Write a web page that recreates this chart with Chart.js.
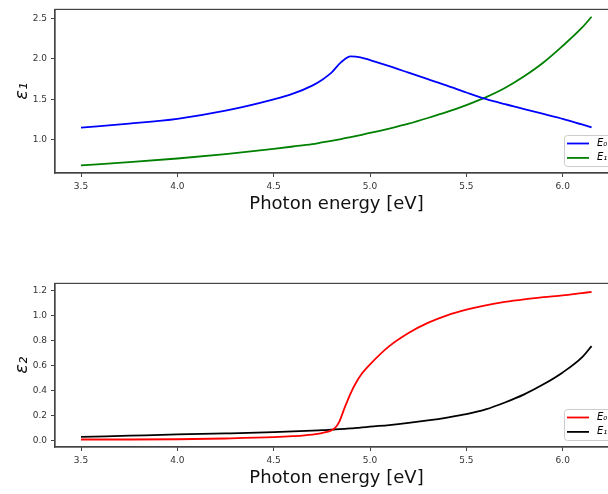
<!DOCTYPE html>
<html>
<head>
<meta charset="utf-8">
<script src="https://cdn.jsdelivr.net/npm/chart.js@4.4.0/dist/chart.umd.min.js"></script>
<style>
html, body { margin: 0; padding: 0; background: #fff; overflow: hidden; width: 608px; height: 494px; }
canvas { position: absolute; left: 0; }
</style>
</head>
<body>
<canvas id="eps1" width="620" height="215" style="top:0px"></canvas>
<canvas id="eps2" width="620" height="215" style="top:274px"></canvas>
<script>
// x ticks shared by both panels
const xTicks = [3.5, 4.0, 4.5, 5.0, 5.5, 6.0];

// epsilon 1 (top panel)
const energyTop = [3.5, 3.75, 4.0, 4.25, 4.5, 4.6, 4.7, 4.75, 4.8, 4.85, 4.9, 4.95, 5.0,
                   5.1, 5.2, 5.3, 5.4, 5.5, 5.6, 5.7, 5.8, 5.9, 6.0, 6.1, 6.15];
const eps1E0 = [1.15, 1.20, 1.26, 1.36, 1.50, 1.57, 1.67, 1.74, 1.83, 1.96, 2.03, 2.02, 1.985,
                1.91, 1.83, 1.75, 1.67, 1.585, 1.505, 1.44, 1.38, 1.32, 1.26, 1.19, 1.155];
const eps1E1 = [0.685, 0.725, 0.77, 0.825, 0.89, 0.918, 0.948, 0.968, 0.988, 1.01, 1.035, 1.06, 1.085,
                1.14, 1.2, 1.27, 1.345, 1.43, 1.525, 1.64, 1.785, 1.955, 2.16, 2.385, 2.52];
const yTicksTop = [1.0, 1.5, 2.0, 2.5];

// epsilon 2 (bottom panel)
const energyBot = [3.5, 3.75, 4.0, 4.25, 4.5, 4.6, 4.7, 4.75, 4.8, 4.82, 4.84, 4.87, 4.9, 4.93,
                   4.96, 5.0, 5.1, 5.2, 5.3, 5.4, 5.5, 5.6, 5.7, 5.8, 5.9, 6.0, 6.1, 6.15];
const eps2E0 = [0.01, 0.01, 0.012, 0.018, 0.028, 0.036, 0.049, 0.061, 0.083, 0.104, 0.15, 0.27, 0.38, 0.47,
                0.54, 0.61, 0.755, 0.86, 0.94, 1.0, 1.045, 1.08, 1.107, 1.128, 1.145, 1.16, 1.178, 1.187];
const eps2E1 = [0.03, 0.04, 0.05, 0.058, 0.068, 0.074, 0.08, 0.084, 0.088, 0.09, 0.092, 0.095, 0.098, 0.102,
                0.106, 0.112, 0.125, 0.142, 0.162, 0.185, 0.212, 0.25, 0.305, 0.37, 0.45, 0.545, 0.665, 0.755];
const yTicksBot = [0.0, 0.2, 0.4, 0.6, 0.8, 1.0, 1.2];

const font = "'DejaVu Sans', sans-serif";
const axisColor = '#444';

function pts(xs, ys) {
    return xs.map((x, i) => ({ x: x, y: ys[i] }));
}

// frame on all 4 sides + matplotlib-like legend in the lower right
const framePlugin = {
    id: 'frame',
    afterDraw(chart) {
        const a = chart.chartArea;
        const ctx = chart.ctx;
        ctx.save();
        ctx.strokeStyle = axisColor;
        ctx.lineWidth = 1.2;
        ctx.strokeRect(a.left, a.top, a.right - a.left, a.bottom - a.top);

        // legend box
        const left = 564, top = a.bottom - 38, w = a.right - 4 - left, h = 31;
        ctx.fillStyle = 'rgba(255,255,255,0.85)';
        ctx.strokeStyle = '#cccccc';
        ctx.lineWidth = 1;
        ctx.beginPath();
        ctx.roundRect(left + 0.5, top + 0.5, w, h, 3);
        ctx.fill();
        ctx.stroke();
        chart.data.datasets.forEach((ds, i) => {
            const y = top + 8.5 + i * 14.4;
            ctx.strokeStyle = ds.borderColor;
            ctx.lineWidth = 1.8;
            ctx.beginPath();
            ctx.moveTo(567, y);
            ctx.lineTo(589, y);
            ctx.stroke();
            ctx.fillStyle = '#000';
            ctx.textBaseline = 'middle';
            ctx.font = 'italic 10px ' + font;
            ctx.fillText(ds.label, 597, y);
        });
        ctx.restore();
    }
};

function makeChart(id, xs, seriesA, seriesB, colA, colB, yMin, yMax, yTicks, yTitle) {
    return new Chart(document.getElementById(id), {
        type: 'line',
        data: {
            datasets: [
                { label: 'E₀', data: pts(xs, seriesA), borderColor: colA, borderWidth: 1.8,
                  pointRadius: 0, fill: false, cubicInterpolationMode: 'monotone' },
                { label: 'E₁', data: pts(xs, seriesB), borderColor: colB, borderWidth: 1.8,
                  pointRadius: 0, fill: false, cubicInterpolationMode: 'monotone' }
            ]
        },
        options: {
            responsive: false,
            animation: false,
            layout: { padding: { top: 2, left: 0, right: 2, bottom: 0 } },
            plugins: { legend: { display: false }, tooltip: { enabled: false } },
            scales: {
                x: {
                    type: 'linear',
                    min: 3.365,
                    max: 6.287,
                    afterBuildTicks: s => { s.ticks = xTicks.map(v => ({ value: v })); },
                    afterFit: s => { s.height = 42; },
                    ticks: { callback: v => v.toFixed(1), color: '#333', padding: 4,
                             font: { family: font, size: 9 }, maxRotation: 0 },
                    grid: { drawOnChartArea: false, tickLength: 4, color: axisColor },
                    border: { color: axisColor, width: 1.2 },
                    title: { display: true, text: 'Photon energy [eV]', color: '#111',
                             font: { family: font, size: 18, lineHeight: 1.2 },
                             padding: { top: 0, bottom: 0 } }
                },
                y: {
                    min: yMin,
                    max: yMax,
                    afterBuildTicks: s => { s.ticks = yTicks.map(v => ({ value: v })); },
                    afterFit: s => { s.width = 55; },
                    ticks: { callback: v => v.toFixed(1), color: '#333', padding: 4,
                             font: { family: font, size: 9 } },
                    grid: { drawOnChartArea: false, tickLength: 4, color: axisColor },
                    border: { color: axisColor, width: 1.2 },
                    title: { display: true, text: yTitle, color: '#111',
                             font: { family: font, size: 18, style: 'italic', lineHeight: 1.2 },
                             padding: { top: 12, bottom: 0 } }
                }
            }
        },
        plugins: [framePlugin]
    });
}

makeChart('eps1', energyTop, eps1E0, eps1E1, '#0000ff', '#008000', 0.591, 2.611, yTicksTop, 'ε₁');
makeChart('eps2', energyBot, eps2E0, eps2E1, '#ff0000', '#000000', -0.05, 1.255, yTicksBot, 'ε₂');
</script>
</body>
</html>
